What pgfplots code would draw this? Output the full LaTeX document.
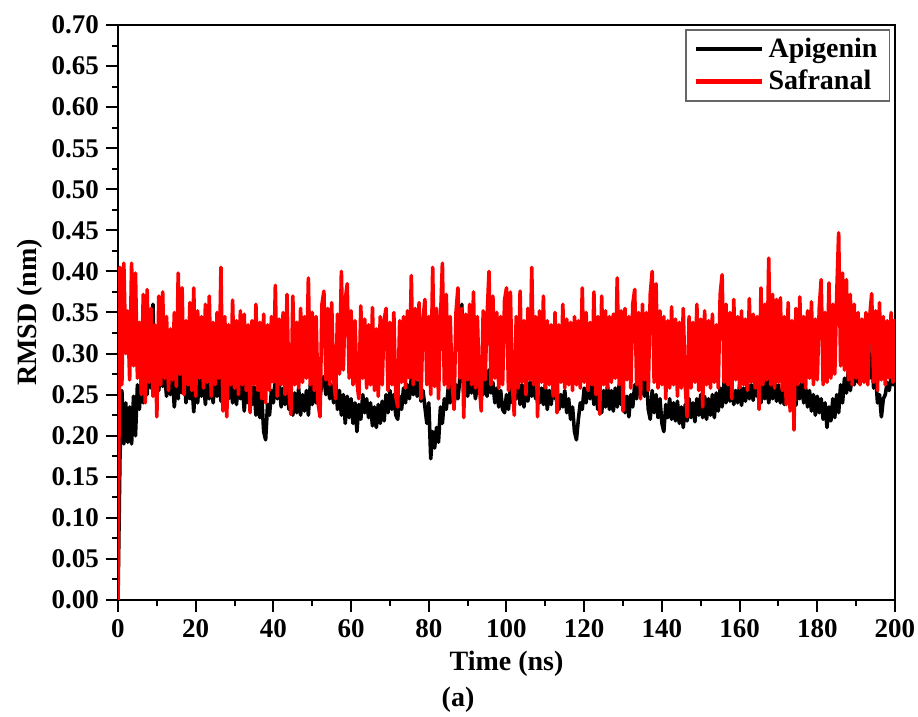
\documentclass[border=0pt]{standalone}
\usepackage{fontspec}
\setmainfont{Liberation Serif}
\usepackage{pgfplots}
\pgfplotsset{compat=1.18}
\begin{document}
\begin{tikzpicture}
\useasboundingbox (-59pt,-58.5pt) rectangle (400pt,300pt);
\begin{axis}[
  at={(0,0)}, anchor=south west,
  scale only axis,
  width=388.5pt, height=287.5pt,
  xmin=0, xmax=200, ymin=0, ymax=0.70,
  xtick={0,20,...,200},
  ytick={0,0.05,0.10,0.15,0.20,0.25,0.30,0.35,0.40,0.45,0.50,0.55,0.60,0.65,0.70},
  minor x tick num=1, minor y tick num=1,
  tick align=outside,
  xtick pos=bottom, ytick pos=left,
  major tick length=6pt, minor tick length=3pt,
  tick style={black, line width=1pt},
  axis line style={line width=1.2pt},
  ticklabel style={font=\fontsize{13.5}{16}\selectfont\bfseries},
  /pgf/number format/assume math mode=true,
  yticklabel style={/pgf/number format/.cd, fixed, fixed zerofill, precision=2},
  xlabel={Time (ns)}, ylabel={RMSD (nm)},
  label style={font=\fontsize{14}{16}\selectfont\bfseries},
  ylabel style={at={(rel axis cs:-0.1133,0.5)}, anchor=center},
  legend style={at={(0.994,0.993)}, anchor=north east, draw=black!60, line width=0.8pt,
    font=\fontsize{14}{16}\selectfont\bfseries, inner xsep=4pt, inner ysep=2pt, row sep=1pt},
  legend cell align=left,
  legend image code/.code={\draw[#1, line width=2.4pt] (0pt,0pt) -- (33pt,0pt);},
]
% Apigenin
\addplot[black, line width=1.8pt, line join=round] coordinates {
(0,0) (0.5,0.172) (1,0.255) (1.5,0.190) (2,0.240) (2.5,0.192) (3,0.235) (3.5,0.190) (4,0.248) (4.5,0.200)
(5,0.262) (5.5,0.232) (6,0.270) (6.5,0.240) (7,0.275) (7.5,0.250) (8,0.290) (8.5,0.258) (9,0.360) (9.5,0.262)
(10,0.285) (10.5,0.255) (11,0.292) (11.5,0.260) (12,0.275) (12.5,0.248) (13,0.280) (13.5,0.250) (14,0.270) (14.5,0.235)
(15,0.268) (15.5,0.245) (16,0.295) (16.5,0.252) (17,0.278) (17.5,0.240) (18,0.272) (18.5,0.245) (19,0.265) (19.5,0.229)
(20,0.270) (20.5,0.240) (21,0.275) (21.5,0.248) (22,0.268) (22.5,0.238) (23,0.272) (23.5,0.245) (24,0.262) (24.5,0.240)
(25,0.278) (25.5,0.248) (26,0.270) (26.5,0.242) (27,0.265) (27.5,0.238) (28,0.272) (28.5,0.245) (29,0.268) (29.5,0.240)
(30,0.262) (30.5,0.238) (31,0.270) (31.5,0.245) (32,0.262) (32.5,0.230) (33,0.265) (33.5,0.240) (34,0.262) (34.5,0.238)
(35,0.260) (35.5,0.225) (36,0.255) (36.5,0.222) (37,0.248) (37.5,0.205) (38,0.195) (38.5,0.238) (39,0.225) (39.5,0.255)
(40,0.240) (40.5,0.272) (41,0.245) (41.5,0.262) (42,0.235) (42.5,0.258) (43,0.238) (43.5,0.265) (44,0.232) (44.5,0.255)
(45,0.225) (45.5,0.252) (46,0.228) (46.5,0.258) (47,0.225) (47.5,0.250) (48,0.230) (48.5,0.255) (49,0.225) (49.5,0.262)
(50,0.238) (50.5,0.265) (51,0.240) (51.5,0.262) (52,0.245) (52.5,0.268) (53,0.272) (53.5,0.250) (54,0.268) (54.5,0.245)
(55,0.262) (55.5,0.240) (56,0.270) (56.5,0.232) (57,0.255) (57.5,0.225) (58,0.250) (58.5,0.215) (59,0.248) (59.5,0.222)
(60,0.245) (60.5,0.215) (61,0.240) (61.5,0.205) (62,0.238) (62.5,0.220) (63,0.250) (63.5,0.228) (64,0.245) (64.5,0.222)
(65,0.240) (65.5,0.212) (66,0.235) (66.5,0.210) (67,0.238) (67.5,0.215) (68,0.242) (68.5,0.218) (69,0.250) (69.5,0.228)
(70,0.255) (70.5,0.232) (71,0.250) (71.5,0.225) (72,0.220) (72.5,0.248) (73,0.232) (73.5,0.258) (74,0.240) (74.5,0.262)
(75,0.245) (75.5,0.270) (76,0.250) (76.5,0.275) (77,0.248) (77.5,0.265) (78,0.242) (78.5,0.255) (79,0.235) (79.5,0.215)
(80,0.240) (80.5,0.172) (81,0.205) (81.5,0.185) (82,0.210) (82.5,0.192) (83,0.235) (83.5,0.215) (84,0.245) (84.5,0.232)
(85,0.258) (85.5,0.240) (86,0.265) (86.5,0.238) (87,0.262) (87.5,0.245) (88,0.270) (88.5,0.360) (89,0.252) (89.5,0.275)
(90,0.248) (90.5,0.268) (91,0.252) (91.5,0.272) (92,0.245) (92.5,0.262) (93,0.255) (93.5,0.275) (94,0.250) (94.5,0.268)
(95,0.248) (95.5,0.280) (96,0.252) (96.5,0.265) (97,0.240) (97.5,0.258) (98,0.235) (98.5,0.255) (99,0.232) (99.5,0.228)
(100,0.250) (100.5,0.232) (101,0.258) (101.5,0.240) (102,0.262) (102.5,0.245) (103,0.268) (103.5,0.238) (104,0.262) (104.5,0.235)
(105,0.258) (105.5,0.242) (106,0.265) (106.5,0.248) (107,0.272) (107.5,0.245) (108,0.262) (108.5,0.240) (109,0.258) (109.5,0.238)
(110,0.262) (110.5,0.232) (111,0.255) (111.5,0.238) (112,0.262) (112.5,0.245) (113,0.258) (113.5,0.232) (114,0.250) (114.5,0.235)
(115,0.255) (115.5,0.228) (116,0.245) (116.5,0.220) (117,0.235) (117.5,0.205) (118,0.195) (118.5,0.220) (119,0.240) (119.5,0.232)
(120,0.258) (120.5,0.240) (121,0.265) (121.5,0.245) (122,0.262) (122.5,0.238) (123,0.255) (123.5,0.232) (124,0.250) (124.5,0.228)
(125,0.255) (125.5,0.235) (126,0.262) (126.5,0.232) (127,0.255) (127.5,0.230) (128,0.258) (128.5,0.235) (129,0.262) (129.5,0.238)
(130,0.255) (130.5,0.228) (131,0.248) (131.5,0.223) (132,0.250) (132.5,0.235) (133,0.262) (133.5,0.245) (134,0.270) (134.5,0.250)
(135,0.275) (135.5,0.248) (136,0.272) (136.5,0.232) (137,0.220) (137.5,0.255) (138,0.228) (138.5,0.250) (139,0.222) (139.5,0.245)
(140,0.215) (140.5,0.205) (141,0.238) (141.5,0.222) (142,0.245) (142.5,0.220) (143,0.240) (143.5,0.218) (144,0.242) (144.5,0.215)
(145,0.235) (145.5,0.210) (146,0.238) (146.5,0.218) (147,0.245) (147.5,0.222) (148,0.240) (148.5,0.217) (149,0.245) (149.5,0.225)
(150,0.250) (150.5,0.222) (151,0.248) (151.5,0.220) (152,0.245) (152.5,0.225) (153,0.250) (153.5,0.222) (154,0.252) (154.5,0.230)
(155,0.258) (155.5,0.235) (156,0.265) (156.5,0.240) (157,0.278) (157.5,0.242) (158,0.262) (158.5,0.238) (159,0.255) (159.5,0.240)
(160,0.262) (160.5,0.237) (161,0.258) (161.5,0.242) (162,0.265) (162.5,0.245) (163,0.262) (163.5,0.243) (164,0.268) (164.5,0.248)
(165,0.262) (165.5,0.240) (166,0.265) (166.5,0.245) (167,0.270) (167.5,0.240) (168,0.262) (168.5,0.245) (169,0.268) (169.5,0.242)
(170,0.262) (170.5,0.240) (171,0.255) (171.5,0.238) (172,0.260) (172.5,0.242) (173,0.262) (173.5,0.240) (174,0.258) (174.5,0.237)
(175,0.262) (175.5,0.245) (176,0.268) (176.5,0.240) (177,0.258) (177.5,0.235) (178,0.255) (178.5,0.230) (179,0.250) (179.5,0.225)
(180,0.248) (180.5,0.228) (181,0.245) (181.5,0.220) (182,0.240) (182.5,0.210) (183,0.235) (183.5,0.218) (184,0.245) (184.5,0.222)
(185,0.250) (185.5,0.228) (186,0.262) (186.5,0.240) (187,0.270) (187.5,0.252) (188,0.280) (188.5,0.255) (189,0.272) (189.5,0.262)
(190,0.285) (190.5,0.265) (191,0.290) (191.5,0.268) (192,0.300) (192.5,0.275) (193,0.347) (193.5,0.270) (194,0.295) (194.5,0.258)
(195,0.275) (195.5,0.240) (196,0.250) (196.5,0.223) (197,0.245) (197.5,0.250) (198,0.265) (198.5,0.255) (199,0.270) (199.5,0.262)
(200,0.275)
};
\addlegendentry{Apigenin}
% Safranal
\addplot[red, line width=1.8pt, line join=round] coordinates {
(0,0) (0.5,0.405) (1,0.262) (1.5,0.410) (2,0.300) (2.5,0.352) (3,0.268) (3.5,0.410) (4,0.285) (4.5,0.398)
(5,0.270) (5.5,0.338) (6,0.250) (6.5,0.372) (7,0.240) (7.5,0.378) (8,0.265) (8.5,0.355) (9,0.248) (9.5,0.335)
(10,0.223) (10.5,0.370) (11,0.262) (11.5,0.375) (12,0.270) (12.5,0.345) (13,0.255) (13.5,0.330) (14,0.268) (14.5,0.350)
(15,0.260) (15.5,0.398) (16,0.275) (16.5,0.380) (17,0.250) (17.5,0.340) (18,0.262) (18.5,0.362) (19,0.255) (19.5,0.380)
(20,0.248) (20.5,0.352) (21,0.270) (21.5,0.345) (22,0.258) (22.5,0.360) (23,0.265) (23.5,0.370) (24,0.248) (24.5,0.338)
(25,0.262) (25.5,0.350) (26,0.270) (26.5,0.405) (27,0.230) (27.5,0.345) (28,0.223) (28.5,0.335) (29,0.262) (29.5,0.365)
(30,0.258) (30.5,0.340) (31,0.250) (31.5,0.352) (32,0.262) (32.5,0.348) (33,0.255) (33.5,0.335) (34,0.228) (34.5,0.340)
(35,0.262) (35.5,0.360) (36,0.255) (36.5,0.338) (37,0.245) (37.5,0.348) (38,0.240) (38.5,0.335) (39,0.255) (39.5,0.345)
(40,0.265) (40.5,0.383) (41,0.248) (41.5,0.342) (42,0.262) (42.5,0.350) (43,0.250) (43.5,0.372) (44,0.255) (44.5,0.226)
(45,0.370) (45.5,0.262) (46,0.338) (46.5,0.258) (47,0.355) (47.5,0.265) (48,0.345) (48.5,0.270) (49,0.392) (49.5,0.262)
(50,0.350) (50.5,0.255) (51,0.345) (51.5,0.240) (52,0.223) (52.5,0.360) (53,0.376) (53.5,0.268) (54,0.355) (54.5,0.262)
(55,0.362) (55.5,0.270) (56,0.245) (56.5,0.348) (57,0.275) (57.5,0.400) (58,0.280) (58.5,0.365) (59,0.385) (59.5,0.270)
(60,0.352) (60.5,0.262) (61,0.340) (61.5,0.265) (62,0.245) (62.5,0.358) (63,0.270) (63.5,0.342) (64,0.258) (64.5,0.335)
(65,0.262) (65.5,0.356) (66,0.255) (66.5,0.330) (67,0.248) (67.5,0.345) (68,0.262) (68.5,0.340) (69,0.355) (69.5,0.255)
(70,0.338) (70.5,0.262) (71,0.350) (71.5,0.248) (72,0.235) (72.5,0.340) (73,0.265) (73.5,0.345) (74,0.258) (74.5,0.352)
(75,0.270) (75.5,0.395) (76,0.262) (76.5,0.355) (77,0.268) (77.5,0.362) (78,0.245) (78.5,0.340) (79,0.366) (79.5,0.262)
(80,0.345) (80.5,0.250) (81,0.405) (81.5,0.260) (82,0.355) (82.5,0.245) (83,0.340) (83.5,0.410) (84,0.262) (84.5,0.372)
(85,0.258) (85.5,0.345) (86,0.265) (86.5,0.232) (87,0.350) (87.5,0.380) (88,0.270) (88.5,0.355) (89,0.222) (89.5,0.348)
(90,0.268) (90.5,0.360) (91,0.262) (91.5,0.375) (92,0.258) (92.5,0.345) (93,0.262) (93.5,0.230) (94,0.352) (94.5,0.268)
(95,0.345) (95.5,0.400) (96,0.262) (96.5,0.370) (97,0.270) (97.5,0.350) (98,0.258) (98.5,0.345) (99,0.262) (99.5,0.365)
(100,0.380) (100.5,0.255) (101,0.375) (101.5,0.262) (102,0.225) (102.5,0.345) (103,0.258) (103.5,0.376) (104,0.265) (104.5,0.340)
(105,0.250) (105.5,0.355) (106,0.268) (106.5,0.405) (107,0.262) (107.5,0.345) (108,0.223) (108.5,0.352) (109,0.265) (109.5,0.370)
(110,0.258) (110.5,0.340) (111,0.262) (111.5,0.335) (112,0.248) (112.5,0.350) (113,0.228) (113.5,0.335) (114,0.265) (114.5,0.360)
(115,0.258) (115.5,0.342) (116,0.262) (116.5,0.338) (117,0.255) (117.5,0.345) (118,0.262) (118.5,0.340) (119,0.258) (119.5,0.380)
(120,0.265) (120.5,0.350) (121,0.255) (121.5,0.338) (122,0.262) (122.5,0.375) (123,0.250) (123.5,0.345) (124,0.226) (124.5,0.370)
(125,0.262) (125.5,0.352) (126,0.258) (126.5,0.345) (127,0.265) (127.5,0.348) (128,0.270) (128.5,0.392) (129,0.262) (129.5,0.352)
(130,0.230) (130.5,0.355) (131,0.268) (131.5,0.345) (132,0.258) (132.5,0.360) (133,0.378) (133.5,0.262) (134,0.350) (134.5,0.245)
(135,0.360) (135.5,0.268) (136,0.350) (136.5,0.255) (137,0.372) (137.5,0.400) (138,0.265) (138.5,0.385) (139,0.258) (139.5,0.352)
(140,0.262) (140.5,0.345) (141,0.245) (141.5,0.340) (142,0.258) (142.5,0.357) (143,0.262) (143.5,0.342) (144,0.248) (144.5,0.338)
(145,0.258) (145.5,0.355) (146,0.262) (146.5,0.223) (147,0.345) (147.5,0.258) (148,0.338) (148.5,0.265) (149,0.360) (149.5,0.255)
(150,0.342) (150.5,0.235) (151,0.352) (151.5,0.262) (152,0.340) (152.5,0.258) (153,0.348) (153.5,0.265) (154,0.335) (154.5,0.258)
(155,0.372) (155.5,0.396) (156,0.265) (156.5,0.360) (157,0.262) (157.5,0.350) (158,0.245) (158.5,0.366) (159,0.268) (159.5,0.345)
(160,0.258) (160.5,0.352) (161,0.262) (161.5,0.342) (162,0.255) (162.5,0.367) (163,0.265) (163.5,0.348) (164,0.258) (164.5,0.345)
(165,0.232) (165.5,0.380) (166,0.262) (166.5,0.360) (167,0.268) (167.5,0.416) (168,0.262) (168.5,0.372) (169,0.258) (169.5,0.366)
(170,0.265) (170.5,0.368) (171,0.255) (171.5,0.345) (172,0.238) (172.5,0.362) (173,0.230) (173.5,0.340) (174,0.207) (174.5,0.355)
(175,0.262) (175.5,0.369) (176,0.265) (176.5,0.345) (177,0.258) (177.5,0.352) (178,0.270) (178.5,0.363) (179,0.262) (179.5,0.342)
(180,0.268) (180.5,0.355) (181,0.390) (181.5,0.262) (182,0.350) (182.5,0.265) (183,0.386) (183.5,0.270) (184,0.360) (184.5,0.275)
(185,0.372) (185.5,0.447) (186,0.285) (186.5,0.398) (187,0.280) (187.5,0.390) (188,0.268) (188.5,0.372) (189,0.262) (189.5,0.360)
(190,0.270) (190.5,0.350) (191,0.262) (191.5,0.342) (192,0.265) (192.5,0.350) (193,0.262) (193.5,0.345) (194,0.373) (194.5,0.265)
(195,0.352) (195.5,0.255) (196,0.362) (196.5,0.268) (197,0.345) (197.5,0.262) (198,0.340) (198.5,0.270) (199,0.350) (199.5,0.265)
(200,0.342)
};
\addlegendentry{Safranal}
\coordinate (lbl) at (rel axis cs:0.4376,-0.174);
\end{axis}
\node[font=\fontsize{14}{16}\selectfont\bfseries] at (lbl) {(a)};
\end{tikzpicture}
\end{document}
